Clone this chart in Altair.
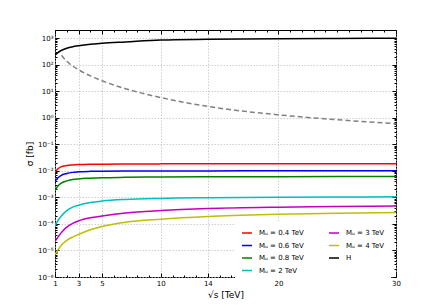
import altair as alt
import pandas as pd

# ---------------- data ----------------
x_vals = [1, 1.25, 1.5, 2, 2.5, 3, 4, 5, 7, 10, 14, 20, 25, 30]

sig_04 = [9.0e-3, 1.2e-2, 1.42e-2, 1.6e-2, 1.68e-2, 1.73e-2, 1.78e-2, 1.8e-2, 1.82e-2, 1.84e-2, 1.85e-2, 1.86e-2, 1.87e-2, 1.87e-2]
sig_06 = [4.0e-3, 5.5e-3, 6.7e-3, 8.0e-3, 8.8e-3, 9.2e-3, 9.6e-3, 9.8e-3, 9.9e-3, 1.0e-2, 1.0e-2, 1.01e-2, 1.01e-2, 1.01e-2]
sig_08 = [1.8e-3, 2.7e-3, 3.4e-3, 4.2e-3, 4.7e-3, 5.0e-3, 5.3e-3, 5.5e-3, 5.7e-3, 5.9e-3, 6.0e-3, 6.05e-3, 6.1e-3, 6.1e-3]
sig_2 = [8.5e-5, 1.35e-4, 1.9e-4, 3.2e-4, 4.3e-4, 5.1e-4, 6.4e-4, 7.3e-4, 8.4e-4, 9.2e-4, 9.7e-4, 1.01e-3, 1.03e-3, 1.05e-3]
sig_3 = [2.2e-5, 3.2e-5, 4.5e-5, 7.6e-5, 1.05e-4, 1.3e-4, 1.7e-4, 2.0e-4, 2.6e-4, 3.2e-4, 3.8e-4, 4.3e-4, 4.55e-4, 4.75e-4]
sig_4 = [7.0e-6, 1.05e-5, 1.5e-5, 2.4e-5, 3.2e-5, 4.0e-5, 6.0e-5, 8.0e-5, 1.15e-4, 1.5e-4, 1.9e-4, 2.3e-4, 2.55e-4, 2.7e-4]
sig_H = [230, 290, 340, 420, 480, 525, 600, 650, 730, 860, 910, 950, 980, 1000]

x_dash = [1.55, 2, 2.5, 3, 4, 5, 7, 10, 14, 20, 25, 30]
sig_dash = [230, 135, 90, 65, 38, 25, 12.5, 5.8, 2.7, 1.3, 0.85, 0.6]

series_labels = ["Mᵤ = 0.4 TeV", "Mᵤ = 0.6 TeV", "Mᵤ = 0.8 TeV", "Mᵤ = 2 TeV",
                 "Mᵤ = 3 TeV", "Mᵤ = 4 TeV", "H"]
series_colors = ["#ff0000", "#0000ff", "#008000", "#00bfbf", "#bf00bf", "#bfbf00", "#000000"]
series_values = [sig_04, sig_06, sig_08, sig_2, sig_3, sig_4, sig_H]

x_major = [1, 3, 5, 10, 14, 20, 30]
x_minor = [v for v in range(2, 30) if v not in x_major]
y_major = [1e-6, 1e-5, 1e-4, 1e-3, 1e-2, 1e-1, 1e0, 1e1, 1e2, 1e3]
y_minor = [m * 10.0 ** e for e in range(-6, 4) for m in range(2, 10) if m * 10.0 ** e < 2050]

rows = []
for lab, ys_ in zip(series_labels, series_values):
    for xv, yv in zip(x_vals, ys_):
        rows.append({"x": xv, "y": yv, "series": lab})
df = pd.DataFrame(rows)
dash_df = pd.DataFrame({"x": x_dash, "y": sig_dash})

Y_DOMAIN = [1e-6, 2050]


def xs():
    return alt.Scale(domain=[1, 30], nice=False, zero=False)


def ys():
    return alt.Scale(type="log", domain=Y_DOMAIN, nice=False)


sup = "'10' + ['⁻⁶','⁻⁵','⁻⁴','⁻³','⁻²','⁻¹','⁰','¹','²','³'][round(log(datum.value)/LN10) + 6]"

GRID = dict(gridDash=[1.5, 1.5], gridColor="#bbbbbb", gridWidth=0.7)

lines = alt.Chart(df).mark_line(strokeWidth=1.5, interpolate="monotone", clip=True).encode(
    x=alt.X("x:Q", scale=xs(), axis=alt.Axis(
        orient="bottom", values=x_major, format="d", grid=True, tickSize=4, offset=-4,
        domain=False, labelFontSize=7, labelPadding=2, labelFlush=False, labelOverlap=False,
        title="√s [TeV]", titleFontSize=9, titlePadding=4, **GRID)),
    y=alt.Y("y:Q", scale=ys(), axis=alt.Axis(
        orient="left", values=y_major, labelExpr=sup, grid=True, tickSize=4, offset=-4,
        domain=False, labelFontSize=7, labelPadding=2, labelFlush=False, labelOverlap=False,
        title="σ [fb]", titleFontSize=9, titlePadding=3, **GRID)),
    color=alt.Color("series:N", scale=alt.Scale(domain=series_labels, range=series_colors),
                    legend=alt.Legend(orient="none", legendX=180, legendY=191, columns=2,
                                      title=None, symbolType="stroke", symbolSize=100,
                                      symbolStrokeWidth=1.5, labelFontSize=7, labelOffset=6,
                                      columnPadding=22, rowPadding=3.5, padding=6,
                                      fillColor="white", labelColor="black")),
)

dashed = alt.Chart(dash_df).mark_line(strokeWidth=1.5, strokeDash=[5, 3], color="#808080",
                                      interpolate="monotone", clip=True).encode(
    x=alt.X("x:Q", scale=xs(), axis=alt.Axis(
        orient="top", values=x_major, labels=False, grid=False, tickSize=4, offset=-4,
        domain=False, title=None)),
    y=alt.Y("y:Q", scale=ys(), axis=alt.Axis(
        orient="right", values=y_major, labels=False, grid=False, tickSize=4, offset=-4,
        domain=False, title=None)),
)

minor_a = alt.Chart(dash_df).mark_line(opacity=0).encode(
    x=alt.X("x:Q", scale=xs(), axis=alt.Axis(
        orient="bottom", values=x_minor, labels=False, grid=False, tickSize=2, offset=-2,
        domain=False, title=None)),
    y=alt.Y("y:Q", scale=ys(), axis=alt.Axis(
        orient="left", values=y_minor, labels=False, grid=False, tickSize=2, offset=-2,
        domain=False, title=None)),
)

minor_b = alt.Chart(dash_df).mark_line(opacity=0).encode(
    x=alt.X("x:Q", scale=xs(), axis=alt.Axis(
        orient="top", values=x_minor, labels=False, grid=False, tickSize=2, offset=-2,
        domain=False, title=None)),
    y=alt.Y("y:Q", scale=ys(), axis=alt.Axis(
        orient="right", values=y_minor, labels=False, grid=False, tickSize=2, offset=-2,
        domain=False, title=None)),
)

chart = alt.layer(lines, dashed, minor_a, minor_b).resolve_scale(
    x="independent", y="independent"
).resolve_axis(
    x="independent", y="independent"
).properties(
    width=341, height=247,
    padding={"left": 47, "top": 22, "right": 37, "bottom": 23},
    autosize=alt.AutoSizeParams(type="none"),
    background="white",
).configure_axis(
    labelFont="DejaVu Sans", titleFont="DejaVu Sans", labelColor="black",
    titleColor="black", tickColor="black", tickWidth=1, titleFontWeight="normal",
).configure_legend(
    labelFont="DejaVu Sans",
).configure_view(
    stroke="black", strokeWidth=1,
)

chart.save("out.html", embed_options={"renderer": "svg", "actions": False})
